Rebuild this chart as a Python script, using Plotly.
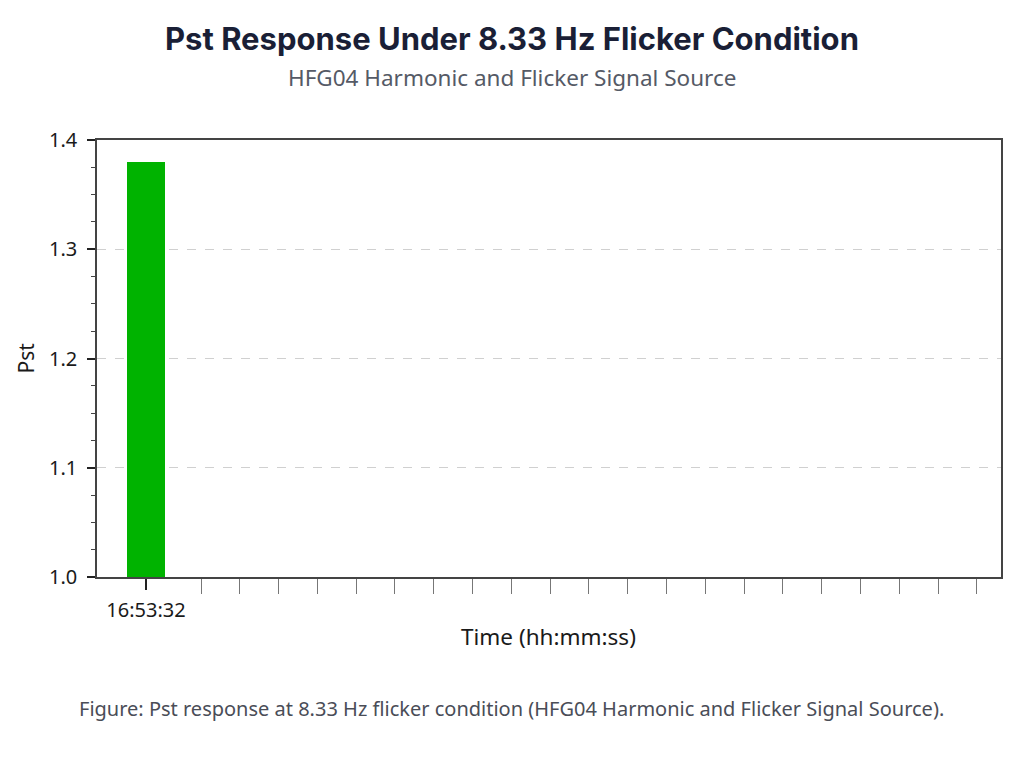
import plotly.graph_objects as go

# Pst readings (one 10-min interval recorded)
times = ["16:53:32"]
pst = [1.38]

y_ticks = [1.0, 1.1, 1.2, 1.3, 1.4]
y_labels = ["1.0", "1.1", "1.2", "1.3", "1.4"]

TITLE = "Pst Response Under 8.33 Hz Flicker Condition"
SUBTITLE = "HFG04 Harmonic and Flicker Signal Source"
CAPTION = "Figure: Pst response at 8.33 Hz flicker condition (HFG04 Harmonic and Flicker Signal Source)."

xs = list(range(len(times)))

fig = go.Figure()
fig.add_trace(go.Bar(
    x=xs, y=pst, width=1.0,
    marker=dict(color="#00b300", line=dict(width=0)),
    hovertemplate="%{text}<br>Pst=%{y}<extra></extra>",
    text=times, textposition="none",
))

# empty slots to the right (ticks only, no labels)
slot_ticks = [1.418 + i for i in range(21)]

fig.update_layout(
    width=1024, height=768,
    margin=dict(l=89, r=31, t=132, b=199),
    paper_bgcolor="white", plot_bgcolor="white",
    font=dict(family="Noto Sans", size=20, color="#1a1a1a"),
    showlegend=False,
    bargap=0,
    xaxis=dict(
        range=[-1.263, 22.04],
        tickmode="array", tickvals=xs, ticktext=times,
        ticks="outside", ticklen=11, tickwidth=1.5, tickcolor="#222",
        ticklabelstandoff=3,
        showline=True, linecolor="#444", linewidth=1.5, mirror=True,
        showgrid=False, zeroline=False,
        minor=dict(tickmode="array", tickvals=slot_ticks, ticks="outside",
                   ticklen=15, tickwidth=1.2, tickcolor="#777", showgrid=False),
    ),
    yaxis=dict(
        range=[1.0, 1.4],
        tickmode="array", tickvals=y_ticks, ticktext=y_labels,
        ticks="outside", ticklen=8, tickwidth=1.5, tickcolor="#222",
        ticklabelstandoff=6,
        showline=True, linecolor="#444", linewidth=1.5, mirror=True,
        showgrid=True, gridcolor="#d0d0d0", griddash="dash", gridwidth=1,
        zeroline=False,
        minor=dict(dtick=0.025, ticks="outside", ticklen=4, tickwidth=1.2,
                   tickcolor="#444", showgrid=False),
    ),
)

fig.add_annotation(text="<b>" + TITLE + "</b>", xref="paper", yref="paper",
                   x=0.459, y=1.233, showarrow=False, yanchor="middle",
                   font=dict(family="Inter", size=31, color="#1a1f36"))
fig.add_annotation(text=SUBTITLE, xref="paper", yref="paper",
                   x=0.459, y=1.142, showarrow=False, yanchor="middle",
                   font=dict(family="Noto Sans", size=22.5, color="#555a66"))
fig.add_annotation(text="Time (hh:mm:ss)", xref="paper", yref="paper",
                   x=0.4995, y=-0.137, showarrow=False, yanchor="middle",
                   font=dict(family="Noto Sans", size=22.5, color="#1a1a1a"))
fig.add_annotation(text="Pst", xref="paper", yref="paper",
                   x=-0.0796, y=0.5, showarrow=False, textangle=-90,
                   xanchor="center", yanchor="middle",
                   font=dict(family="Noto Sans", size=21, color="#1a1a1a"))
fig.add_annotation(text=CAPTION, xref="paper", yref="paper",
                   x=0.459, y=-0.30, showarrow=False, yanchor="middle",
                   font=dict(family="Noto Sans", size=20, color="#4a4d57"))

fig.write_html("out.html")
